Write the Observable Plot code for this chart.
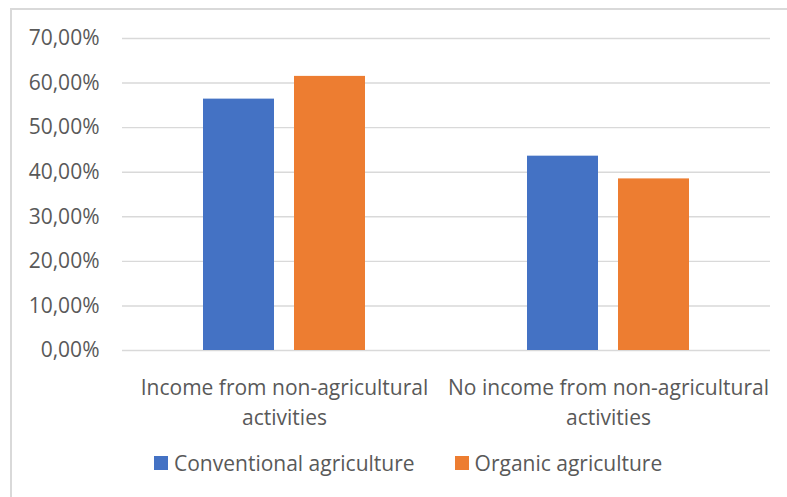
<!DOCTYPE html>
<html>
<head>
<meta charset="utf-8">
<script src="https://cdn.jsdelivr.net/npm/d3@7"></script>
<script src="https://cdn.jsdelivr.net/npm/@observablehq/plot@0.6"></script>
<style>
  html, body { margin: 0; padding: 0; background: #fff; }
  body { width: 787px; height: 497px; position: relative; overflow: hidden; font-family: "Open Sans", sans-serif; color: #595959; }
  #frame { position: absolute; left: 10px; top: 8px; width: 800px; height: 520px; border: 2px solid #d9d9d9; box-sizing: border-box; }
  #chart { position: absolute; left: 0; top: 0; }
  #legend { position: absolute; left: 154px; top: 448px; display: flex; align-items: center; font-size: 21px; line-height: 30px; }
  .item { display: flex; align-items: center; }
  .item + .item { margin-left: 40px; }
  .swatch { width: 14px; height: 14px; margin-right: 6px; }
</style>
</head>
<body>
<div id="frame"></div>
<div id="chart"></div>
<div id="legend"></div>
<script>
// Share of farms by source of income
const groups = ["Income from non-agricultural activities", "No income from non-agricultural activities"];
const groupLabels = ["Income from non-agricultural\nactivities", "No income from non-agricultural\nactivities"];
const series = ["Conventional agriculture", "Organic agriculture"];
const conventional = [56.4, 43.6];
const organic = [61.5, 38.5];
const yTicks = [0, 10, 20, 30, 40, 50, 60, 70];
const colors = ["#4472C4", "#ED7D31"];

const rows = groups.flatMap((g, i) => [
  {group: g, series: series[0], value: conventional[i]},
  {group: g, series: series[1], value: organic[i]}
]);

const chart = Plot.plot({
  width: 787,
  height: 430,
  marginLeft: 122,
  marginRight: 17,
  marginTop: 38,
  marginBottom: 80,
  style: {fontFamily: "Open Sans, sans-serif", fontSize: "21px", color: "#595959", background: "transparent", overflow: "visible"},
  fx: {domain: groups, padding: 0, label: null},
  x: {domain: series, paddingInner: 0.2174, paddingOuter: 0.87, axis: null},
  y: {domain: [0, 70], axis: null},
  color: {domain: series, range: colors},
  marks: [
    Plot.ruleY(yTicks, {stroke: "#d9d9d9", strokeWidth: 1.4}),
    Plot.barY(rows, {fx: "group", x: "series", y: "value", fill: "series"}),
    Plot.axisY(yTicks, {
      tickSize: 0,
      tickPadding: 23,
      fontSize: 21,
      label: null,
      tickFormat: d => d.toFixed(2).replace(".", ",") + "%"
    }),
    Plot.axisFx({
      anchor: "bottom",
      tickSize: 0,
      tickPadding: 23,
      fontSize: 21,
      lineHeight: 1.43,
      label: null,
      tickFormat: d => groupLabels[groups.indexOf(d)]
    })
  ]
});
document.getElementById("chart").appendChild(chart);

// Legend
const legend = document.getElementById("legend");
series.forEach((s, i) => {
  const item = document.createElement("div");
  item.className = "item";
  const sw = document.createElement("span");
  sw.className = "swatch";
  sw.style.background = colors[i];
  const label = document.createElement("span");
  label.textContent = s;
  item.appendChild(sw);
  item.appendChild(label);
  legend.appendChild(item);
});
</script>
</body>
</html>
